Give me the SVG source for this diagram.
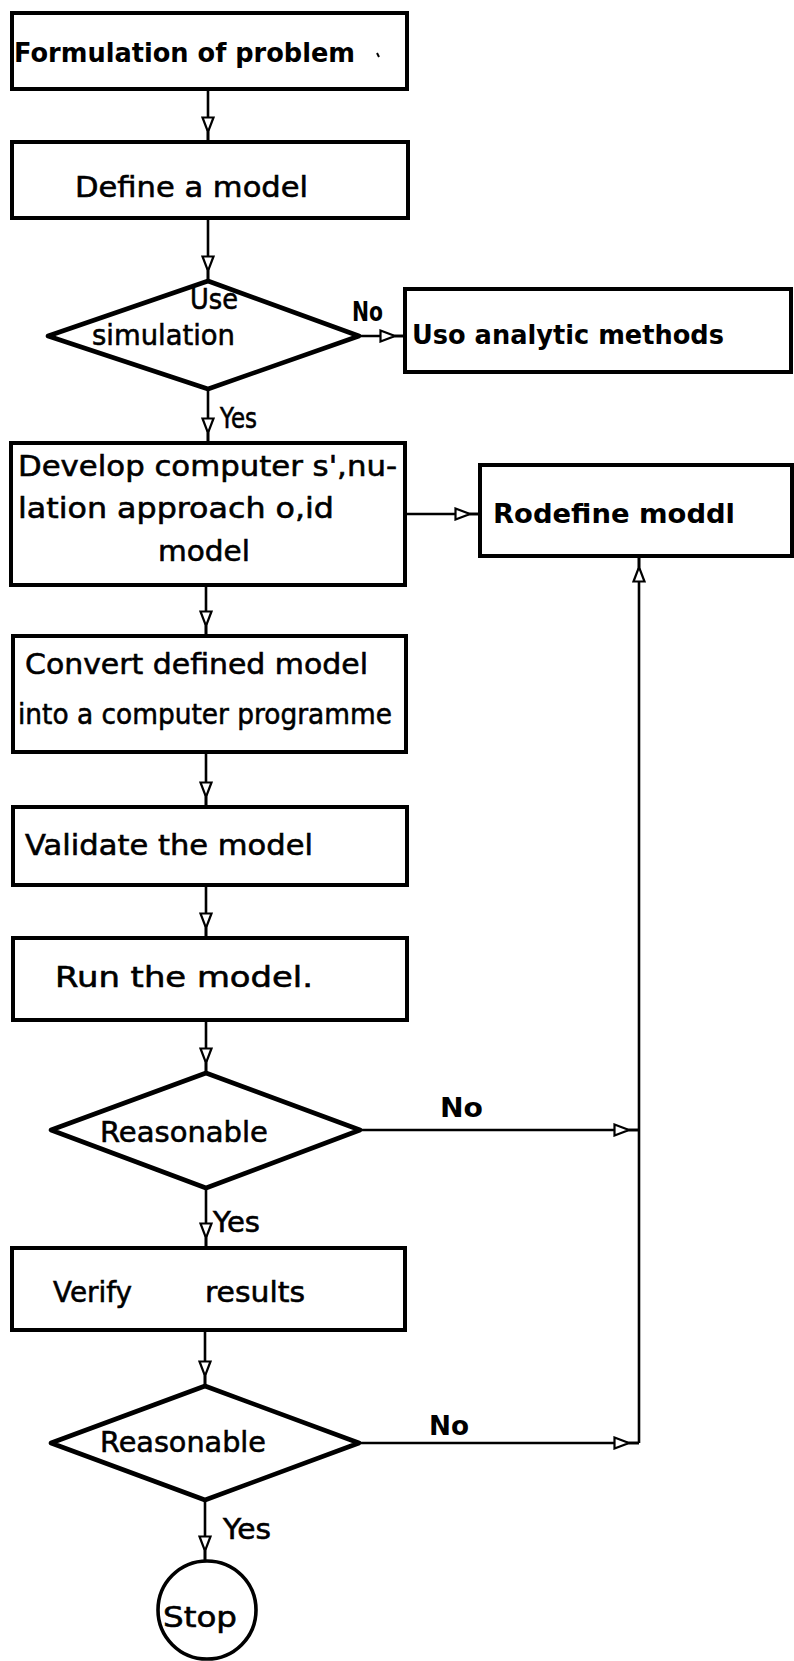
<svg xmlns="http://www.w3.org/2000/svg" width="794" height="1661" viewBox="0 0 794 1661">
<style>
.bx{fill:#fff;stroke:#000;stroke-width:4}
.dm{fill:#fff;stroke:#000;stroke-width:4.6;stroke-linejoin:round}
.cn{fill:none;stroke:#000;stroke-width:2.6}
.t{font-family:"DejaVu Sans","Liberation Sans",sans-serif;font-size:29px;fill:#000;stroke:#000;stroke-width:0.6}
.b{font-family:"DejaVu Sans","Liberation Sans",sans-serif;font-size:27px;font-weight:bold;fill:#000}
</style>
<defs>
<marker id="ah" viewBox="0 0 26 14" refX="26" refY="7" markerWidth="26" markerHeight="14" markerUnits="userSpaceOnUse" orient="auto">
<path d="M1.5,1.5 L16,7 L1.5,12.5 Z" fill="#fff" stroke="#000" stroke-width="2.2"/>
<path d="M16,7 L26,7" stroke="#000" stroke-width="2.6"/>
</marker>
</defs>
<rect width="794" height="1661" fill="#fff"/>
<g id="connectors">
<line class="cn" x1="208" y1="89" x2="208" y2="142" marker-end="url(#ah)"/>
<line class="cn" x1="208" y1="218" x2="208" y2="281" marker-end="url(#ah)"/>
<line class="cn" x1="359" y1="336" x2="405" y2="336" stroke-width="3.4" marker-end="url(#ah)"/>
<line class="cn" x1="208" y1="389" x2="208" y2="443" marker-end="url(#ah)"/>
<line class="cn" x1="405" y1="514" x2="480" y2="514" stroke-width="4" marker-end="url(#ah)"/>
<line class="cn" x1="206" y1="585" x2="206" y2="636" marker-end="url(#ah)"/>
<line class="cn" x1="206" y1="752" x2="206" y2="807" marker-end="url(#ah)"/>
<line class="cn" x1="206" y1="885" x2="206" y2="938" marker-end="url(#ah)"/>
<line class="cn" x1="206" y1="1020" x2="206" y2="1073" marker-end="url(#ah)"/>
<line class="cn" x1="360" y1="1130" x2="639" y2="1130" stroke-width="4" marker-end="url(#ah)"/>
<line class="cn" x1="206" y1="1188" x2="206" y2="1248" marker-end="url(#ah)"/>
<line class="cn" x1="205" y1="1330" x2="205" y2="1386" marker-end="url(#ah)"/>
<line class="cn" x1="359" y1="1443" x2="639" y2="1443" stroke-width="4" marker-end="url(#ah)"/>
<line class="cn" x1="639" y1="1443" x2="639" y2="557" marker-end="url(#ah)"/>
<line class="cn" x1="205" y1="1500" x2="205" y2="1561" marker-end="url(#ah)"/>
<text class="b" x="352" y="321" font-size="25" textLength="31" lengthAdjust="spacingAndGlyphs">No</text>
<text class="t" x="220" y="428" font-size="27" textLength="37" lengthAdjust="spacingAndGlyphs">Yes</text>
<text class="b" x="440" y="1117" font-size="25" textLength="43" lengthAdjust="spacingAndGlyphs">No</text>
<text class="t" x="213" y="1232" font-size="27" textLength="47" lengthAdjust="spacingAndGlyphs">Yes</text>
<text class="b" x="429" y="1435" font-size="25" textLength="40" lengthAdjust="spacingAndGlyphs">No</text>
<text class="t" x="223" y="1539" font-size="28" textLength="48" lengthAdjust="spacingAndGlyphs">Yes</text>
</g>
<g id="formulation">
<rect class="bx" x="12" y="13" width="395" height="76"/>
<text class="b" x="14" y="62" font-size="26" textLength="341" lengthAdjust="spacingAndGlyphs">Formulation of  problem</text>
<line x1="377" y1="53" x2="379" y2="57" stroke="#000" stroke-width="2"/>
</g>
<g id="define">
<rect class="bx" x="12" y="142" width="396" height="76"/>
<text class="t" x="75" y="197" textLength="233" lengthAdjust="spacingAndGlyphs">Define  a  model</text>
</g>
<g id="use-simulation">
<polygon class="dm" points="208,281 359,336 208,389 48,336"/>
<text class="t" x="190" y="309" textLength="48" lengthAdjust="spacingAndGlyphs">Use</text>
<text class="t" x="92" y="345" textLength="143" lengthAdjust="spacingAndGlyphs">simulation</text>
</g>
<g id="analytic">
<rect class="bx" x="405" y="289" width="386" height="83"/>
<text class="b" x="412" y="344" textLength="312" lengthAdjust="spacingAndGlyphs">Uso analytic methods</text>
</g>
<g id="develop">
<rect class="bx" x="11" y="443" width="394" height="142"/>
<text class="t" x="18" y="476" textLength="379" lengthAdjust="spacingAndGlyphs">Develop  computer  s',nu-</text>
<text class="t" x="18" y="518" textLength="316" lengthAdjust="spacingAndGlyphs">lation  approach  o,id</text>
<text class="t" x="158" y="561" textLength="92" lengthAdjust="spacingAndGlyphs">model</text>
</g>
<g id="redefine">
<rect class="bx" x="480" y="465" width="312" height="91"/>
<text class="b" x="493" y="523" textLength="242" lengthAdjust="spacingAndGlyphs">Rodefine  moddl</text>
</g>
<g id="convert">
<rect class="bx" x="13" y="636" width="393" height="116"/>
<text class="t" x="25" y="674" textLength="343" lengthAdjust="spacingAndGlyphs">Convert  defined  model</text>
<text class="t" x="18" y="724" textLength="374" lengthAdjust="spacingAndGlyphs">into a computer programme</text>
</g>
<g id="validate">
<rect class="bx" x="13" y="807" width="394" height="78"/>
<text class="t" x="25" y="855" textLength="288" lengthAdjust="spacingAndGlyphs">Validate  the  model</text>
</g>
<g id="run">
<rect class="bx" x="13" y="938" width="394" height="82"/>
<text class="t" x="55" y="987" textLength="258" lengthAdjust="spacingAndGlyphs">Run  the  model.</text>
</g>
<g id="reasonable-1">
<polygon class="dm" points="206,1073 360,1130 206,1188 51,1130"/>
<text class="t" x="100" y="1142" textLength="168" lengthAdjust="spacingAndGlyphs">Reasonable</text>
</g>
<g id="verify">
<rect class="bx" x="12" y="1248" width="393" height="82"/>
<text class="t" y="1302"><tspan x="53" textLength="79" lengthAdjust="spacingAndGlyphs">Verify</tspan><tspan x="205" textLength="100" lengthAdjust="spacingAndGlyphs">results</tspan></text>
</g>
<g id="reasonable-2">
<polygon class="dm" points="205,1386 359,1443 205,1500 51,1443"/>
<text class="t" x="100" y="1452" textLength="166" lengthAdjust="spacingAndGlyphs">Reasonable</text>
</g>
<g id="stop">
<circle cx="207" cy="1610" r="49" fill="#fff" stroke="#000" stroke-width="3.6"/>
<text class="t" x="163" y="1627" textLength="74" lengthAdjust="spacingAndGlyphs">Stop</text>
</g>
</svg>
